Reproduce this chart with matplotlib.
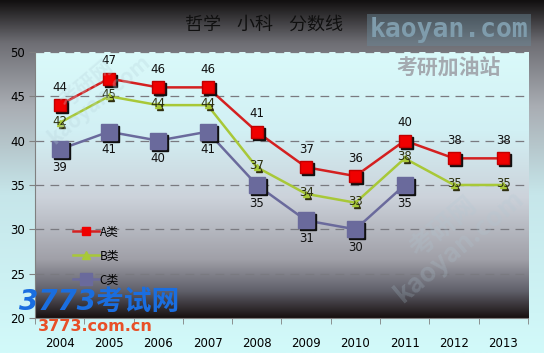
import numpy as np
import matplotlib
matplotlib.use('Agg')
import matplotlib.pyplot as plt
from matplotlib.colors import LinearSegmentedColormap
from matplotlib.lines import Line2D
import matplotlib.transforms as mtransforms

plt.rcParams['font.family'] = ['DejaVu Sans', 'Noto Sans CJK SC']

years = ['2004', '2005', '2006', '2007', '2008', '2009', '2010', '2011', '2012', '2013']
a_vals = [44, 47, 46, 46, 41, 37, 36, 40, 38, 38]
b_vals = [42, 45, 44, 44, 37, 34, 33, 38, 35, 35]
c_vals = [39, 41, 40, 41, 35, 31, 30, 35]
series_names = ['A类', 'B类', 'C类']
title = '哲学    小科    分数线'

fig = plt.figure(figsize=(5.44, 3.53), dpi=100)

# figure background gradient (dark top -> light cyan bottom)
bg = fig.add_axes([0, 0, 1, 1], zorder=-10)
bg_cmap = LinearSegmentedColormap.from_list('bg', [
    (0.0, '#121010'), (0.12, '#6e6e74'), (0.3, '#a9adb3'),
    (0.55, '#c6e6ea'), (1.0, '#d2fafa')])
bg.imshow(np.linspace(0, 1, 256).reshape(-1, 1), cmap=bg_cmap, aspect='auto',
          extent=[0, 1, 0, 1])
bg.set_axis_off()

ax = fig.add_axes([0.0643, 0.099, 0.9063, 0.754])
pa_cmap = LinearSegmentedColormap.from_list('pa', [
    (0.0, '#dafafa'), (0.3, '#d2f0f4'), (0.55, '#ccd2da'),
    (0.78, '#a0a0a8'), (0.9, '#60606a'), (1.0, '#181010')])
ax.imshow(np.linspace(0, 1, 256).reshape(-1, 1), cmap=pa_cmap, aspect='auto',
          extent=[-0.5, 9.5, 20, 50], zorder=0)

x = np.arange(len(years))
ax.set_xlim(-0.5, 9.5)
ax.set_ylim(20, 50)
ax.set_yticks([20, 25, 30, 35, 40, 45, 50])
for yv in [25, 30, 35, 40, 45, 50]:
    ax.axhline(yv, color='#7a7a80', lw=0.9, dashes=(7, 5), zorder=1)

ax.set_xticks(x)
ax.set_xticklabels(years)
ax.set_xticks(np.arange(-0.5, 10, 1), minor=True)
ax.tick_params(axis='x', which='major', length=0, pad=14, labelsize=8.5)
ax.tick_params(axis='x', which='minor', length=4, color='#808080', direction='out')
ax.tick_params(axis='y', length=4, color='#808080', labelsize=8.5, pad=3)
for s in ['top', 'right']:
    ax.spines[s].set_visible(False)
for s in ['left', 'bottom']:
    ax.spines[s].set_color('#808080')

shadow = mtransforms.offset_copy(ax.transData, fig=fig, x=2, y=-2, units='dots')

# A series
ax.plot(x, a_vals, color='#d42020', lw=1.8, zorder=3)
ax.plot(x, a_vals, 's', color='#101010', ms=9, transform=shadow, zorder=3.5)
ax.plot(x, a_vals, 's', color='#f00000', ms=9, mec='#c00000', zorder=4)
# B series
ax.plot(x, b_vals, color='#a8c838', lw=1.8, zorder=3)
ax.plot(x, b_vals, '^', color='#303010', ms=5, transform=shadow, zorder=3.5)
ax.plot(x, b_vals, '^', color='#a8c838', ms=5, zorder=4)
# C series
xc = x[:len(c_vals)]
ax.plot(xc, c_vals, color='#6a6a9c', lw=1.8, zorder=3)
ax.plot(xc, c_vals, 's', color='#101010', ms=11, transform=shadow, zorder=3.5)
ax.plot(xc, c_vals, 's', color='#6a6a9c', ms=11, zorder=4)

for xi, v in zip(x, a_vals):
    ax.annotate(str(v), (xi, v), xytext=(0, 13), textcoords='offset points',
                ha='center', va='center', fontsize=8.5, color='#101010', zorder=6)
for xi, v in zip(x, b_vals):
    ax.annotate(str(v), (xi, v), xytext=(0, 1), textcoords='offset points',
                ha='center', va='center', fontsize=8.5, color='#2c3010', zorder=6)
for xi, v in zip(xc, c_vals):
    ax.annotate(str(v), (xi, v), xytext=(0, -13), textcoords='offset points',
                ha='center', va='center', fontsize=8.5, color='#101010', zorder=6)

handles = [
    Line2D([], [], color='#d42020', lw=1.8, marker='s', ms=6, mfc='#f00000', mec='#f00000'),
    Line2D([], [], color='#a8c838', lw=1.8, marker='^', ms=6, mfc='#a8c838', mec='#a8c838'),
    Line2D([], [], color='#6a6a9c', lw=1.8, marker='s', ms=8, mfc='#6a6a9c', mec='#6a6a9c'),
]
leg = ax.legend(handles, series_names, loc='upper left', bbox_to_anchor=(0.055, 0.39),
                frameon=False, labelspacing=0.95, handlelength=2.2,
                handletextpad=0.1, prop={'family': ['Noto Sans CJK SC'], 'size': 8.5})

fig.text(0.485, 0.93, title, ha='center', va='center', fontsize=13,
         family=['Noto Sans CJK SC'], color='#101010')

# watermarks
fig.text(0.825, 0.915, 'kaoyan.com', ha='center', va='center', fontsize=19,
         color='#7f9cac', fontweight='bold', family=['DejaVu Sans Mono'],
         bbox=dict(facecolor='#6a8898', edgecolor='none', alpha=0.45, pad=2))
fig.text(0.825, 0.807, '考研加油站', ha='center', va='center', fontsize=15,
         color='#a4aab0', fontweight='bold', family=['Noto Sans CJK SC'])
fig.text(0.17, 0.74, '考研网\nkaoyan.com', ha='center', va='center', fontsize=15,
         color='#b8d4dc', alpha=0.3, rotation=40, fontweight='bold',
         family=['Noto Sans CJK SC'], linespacing=0.9)
fig.text(0.83, 0.33, '考研网\nkaoyan.com', ha='center', va='center', fontsize=19,
         color='#b0c8d4', alpha=0.22, rotation=40, fontweight='bold',
         family=['Noto Sans CJK SC'], linespacing=0.9)
fig.text(0.035, 0.145, '3773考试网', ha='left', va='center', fontsize=20,
         color='#1a6ee0', fontweight='bold', style='italic',
         family=['DejaVu Sans', 'Noto Sans CJK SC'])
fig.text(0.07, 0.075, '3773.com.cn', ha='left', va='center', fontsize=11.5,
         color='#e85028', fontweight='bold')

fig.savefig('out.png', dpi=100)
